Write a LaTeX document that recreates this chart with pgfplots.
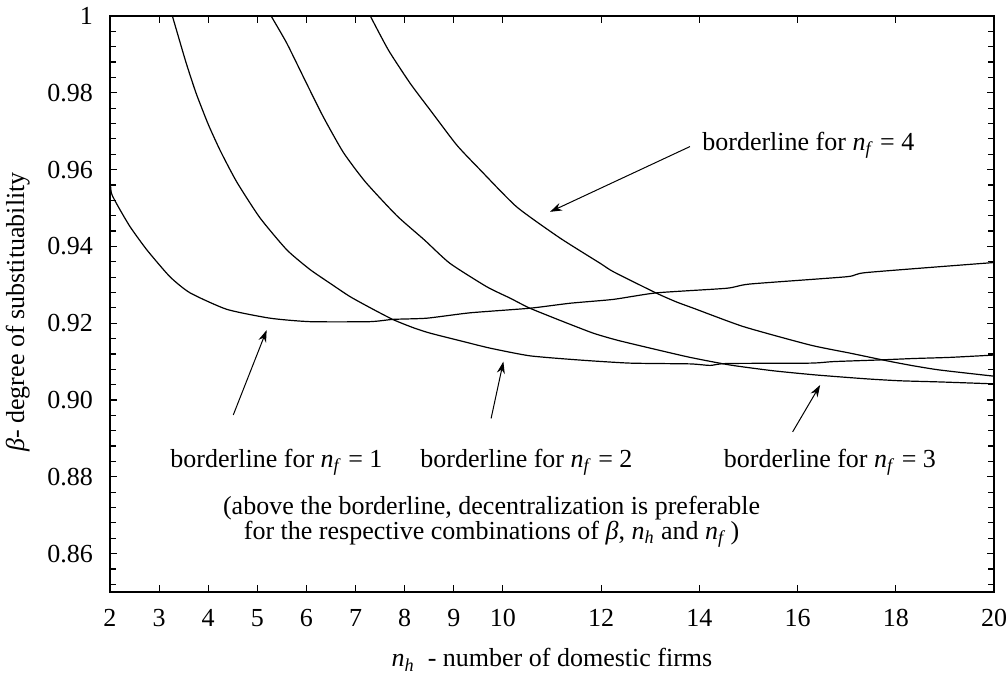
\documentclass[border=0pt]{standalone}
\usepackage{fontspec}
\setmainfont{Liberation Serif}
\usepackage{pgfplots}
\pgfplotsset{compat=1.18}
\usetikzlibrary{arrows.meta}

\newcommand{\var}[2]{\textit{#1}\textsubscript{\textit{#2}}}
\pgfplotsset{curve/.style={black, line width=0.6pt, no markers, smooth, tension=0.35}}

\begin{document}
\fontsize{13}{15.6}\selectfont
\begin{tikzpicture}
\begin{axis}[
  at={(0,0)}, anchor=south west,
  scale only axis, width=442pt, height=288pt,
  xmin=2, xmax=20, ymin=0.85, ymax=1,
  xtick={2,3,4,5,6,7,8,9,10,12,14,16,18,20},
  ytick={0.86,0.88,0.90,0.92,0.94,0.96,0.98,1},
  yticklabels={0.86,0.88,0.90,0.92,0.94,0.96,0.98,1},
  minor ytick={0.852,0.856,0.864,0.868,0.872,0.876,0.884,0.888,0.892,0.896,
    0.904,0.908,0.912,0.916,0.924,0.928,0.932,0.936,0.944,0.948,0.952,0.956,
    0.964,0.968,0.972,0.976,0.984,0.988,0.992,0.996},
  tick align=inside,
  major tick length=3.5pt, minor tick length=2.8pt,
  axis line style={line width=0.8pt},
  every tick/.style={black, line width=0.6pt},
  /pgf/number format/assume math mode=true,
  xticklabel style={yshift=-4pt},
  yticklabel style={xshift=-4pt},
  xlabel={\var{n}{h}\ \ - number of domestic firms},
  ylabel={\textit{β}- degree of substituability},
  xlabel style={yshift=-2pt},
  ylabel style={xshift=-4pt},
]
% borderline for n_f = 1
\addplot[curve] coordinates {
  (2.00,0.9577) (2.03,0.9538) (2.17,0.9503) (2.41,0.9451) (2.75,0.9391)
  (3.22,0.9321) (3.63,0.9279) (4.38,0.9236) (5.26,0.9213) (6.07,0.9204)
  (7.29,0.9204) (7.77,0.9210) (8.45,0.9213) (9.33,0.9227) (10.55,0.9239)
  (11.37,0.9252) (12.25,0.9262) (13.13,0.9279) (14.56,0.9291) (15.03,0.9302)
  (17.00,0.9321) (17.41,0.9332) (20.00,0.9358)
};
% borderline for n_f = 2
\addplot[curve] coordinates {
  (3.27,1.000) (3.40,0.9943) (3.55,0.9878) (3.75,0.9800) (4.00,0.9718)
  (4.25,0.9648) (4.58,0.9568) (5.05,0.9475)
  (5.60,0.9391) (6.07,0.9340) (6.48,0.9304) (6.89,0.9269) (7.36,0.9236)
  (7.77,0.9209) (8.18,0.9188) (8.52,0.9174) (9.20,0.9152) (9.74,0.9135)
  (10.55,0.9115) (11.57,0.9104) (12.59,0.9096) (13.81,0.9094) (14.22,0.9090)
  (14.56,0.9095) (16.26,0.9096) (16.73,0.9100) (17.61,0.9104) (18.36,0.9108)
  (19.11,0.9111) (20.00,0.9117)
};
% borderline for n_f = 3
\addplot[curve] coordinates {
  (5.28,1.000) (5.60,0.9929) (6.00,0.9825) (6.34,0.9738) (6.75,0.9645)
  (7.20,0.9568) (7.84,0.9480) (8.40,0.9417) (8.92,0.9356) (9.67,0.9295)
  (10.15,0.9265) (10.55,0.9239) (11.23,0.9204) (11.84,0.9174) (12.32,0.9156)
  (13.00,0.9135) (13.81,0.9111) (14.63,0.9091) (15.51,0.9076) (16.39,0.9065)
  (17.41,0.9055) (18.09,0.9050) (18.90,0.9047) (20.00,0.9042)
};
% borderline for n_f = 4
\addplot[curve] coordinates {
  (7.30,1.000) (7.67,0.9911) (8.11,0.9825) (8.52,0.9755) (9.06,0.9664)
  (9.54,0.9599) (10.28,0.9503) (11.16,0.9422) (11.98,0.9356) (12.25,0.9334)
  (13.13,0.9278) (13.54,0.9255) (13.88,0.9239) (14.90,0.9191) (16.26,0.9143)
  (17.07,0.9122) (17.82,0.9102) (18.36,0.9089) (18.90,0.9078) (20.00,0.9062)
};
% arrows and notes
\draw[-{Stealth[length=6pt,width=4pt]}, line width=0.5pt] (axis cs:4.51,0.8961) -- (axis cs:5.19,0.9182);
\draw[-{Stealth[length=6pt,width=4pt]}, line width=0.5pt] (axis cs:9.76,0.8952) -- (axis cs:10.01,0.9100);
\draw[-{Stealth[length=6pt,width=4pt]}, line width=0.5pt] (axis cs:15.90,0.8917) -- (axis cs:16.46,0.9039);
\draw[-{Stealth[length=6pt,width=4pt]}, line width=0.5pt] (axis cs:13.81,0.9660) -- (axis cs:10.96,0.9490);
\node[anchor=base] at (axis cs:5.39,0.8825) {borderline for \var{n}{f} = 1};
\node[anchor=base] at (axis cs:10.48,0.8825) {borderline for \var{n}{f} = 2};
\node[anchor=base] at (axis cs:16.66,0.8825) {borderline for \var{n}{f} = 3};
\node[anchor=base] at (axis cs:16.22,0.9651) {borderline for \var{n}{f} = 4};
\node[anchor=base] at (axis cs:9.77,0.8702) {(above the borderline, decentralization is preferable};
\node[anchor=base] at (axis cs:9.77,0.8637) {for the respective combinations of \textit{β}, \var{n}{h} and \var{n}{f}\,)};
\end{axis}
\pgfresetboundingbox
\path[use as bounding box] (-55pt,-40.5pt) rectangle (449pt,296pt);
\end{tikzpicture}
\end{document}
